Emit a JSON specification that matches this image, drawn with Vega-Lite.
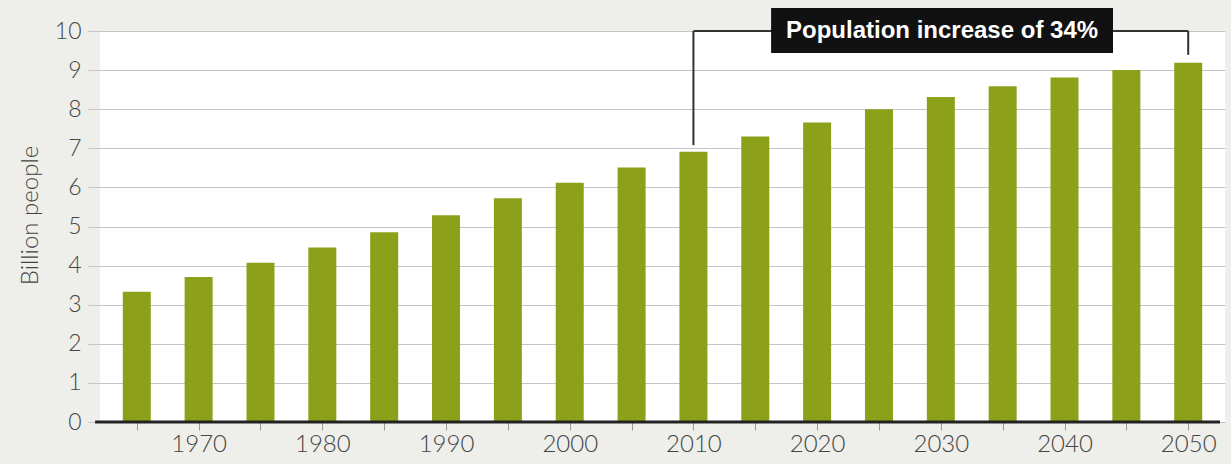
{
  "$schema": "https://vega.github.io/schema/vega-lite/v6.json",
  "width": 1125,
  "height": 391,
  "autosize": {"type": "none"},
  "padding": {"left": 100, "top": 31, "right": 6, "bottom": 42},
  "background": "#eeeeea",
  "config": {
    "view": {"fill": "#ffffff", "stroke": null},
    "font": "Liberation Sans"
  },
  "datasets": {
    "pop": [
      {"year": 1965, "billion": 3.33},
      {"year": 1970, "billion": 3.71},
      {"year": 1975, "billion": 4.07},
      {"year": 1980, "billion": 4.46},
      {"year": 1985, "billion": 4.85},
      {"year": 1990, "billion": 5.29},
      {"year": 1995, "billion": 5.72},
      {"year": 2000, "billion": 6.12},
      {"year": 2005, "billion": 6.51},
      {"year": 2010, "billion": 6.91},
      {"year": 2015, "billion": 7.3},
      {"year": 2020, "billion": 7.66},
      {"year": 2025, "billion": 8.0},
      {"year": 2030, "billion": 8.31},
      {"year": 2035, "billion": 8.59},
      {"year": 2040, "billion": 8.81},
      {"year": 2045, "billion": 9.0},
      {"year": 2050, "billion": 9.19}
    ],
    "bracket": [
      {"year": 2010, "year2": 2050, "billion": 10.0, "billion2": 10.0},
      {"year": 2010, "year2": 2010, "billion": 10.0, "billion2": 7.08},
      {"year": 2050, "year2": 2050, "billion": 10.0, "billion2": 9.39}
    ],
    "box": [
      {"year": 2016.28, "year2": 2043.92, "billion": 10.59, "billion2": 9.44}
    ],
    "label": [
      {"year": 2030.1, "billion": 10.0, "text": "Population increase of 34%"}
    ],
    "baseline": [
      {"year": 1961.63, "year2": 2052.57, "billion": 0}
    ]
  },
  "encoding": {
    "x": {
      "field": "year",
      "type": "quantitative",
      "scale": {"domain": [1962.43, 2052.57], "nice": false, "zero": false},
      "axis": {
        "title": null,
        "values": [1965, 1970, 1975, 1980, 1985, 1990, 1995, 2000, 2005, 2010, 2015, 2020, 2025, 2030, 2035, 2040, 2045, 2050],
        "labelExpr": "datum.value % 10 === 0 ? datum.value : ''",
        "format": "d",
        "grid": false,
        "domain": false,
        "ticks": true,
        "tickColor": "#999999",
        "tickSize": 8,
        "tickWidth": 1,
        "labelFont": "Lato",
        "labelFontWeight": 300,
        "labelFontSize": 24,
        "labelColor": "#444444",
        "labelPadding": 2,
        "labelFlush": false,
        "labelOverlap": false
      }
    },
    "y": {
      "field": "billion",
      "type": "quantitative",
      "scale": {"domain": [0, 10], "nice": false},
      "axis": {
        "title": "Billion people",
        "titleFont": "Lato",
        "titleFontWeight": 300,
        "titleFontSize": 24,
        "titleColor": "#444444",
        "titleAngle": 270,
        "titleX": -70,
        "titleY": 184,
        "titleAlign": "center",
        "titleBaseline": "middle",
        "values": [0, 1, 2, 3, 4, 5, 6, 7, 8, 9, 10],
        "labelOverlap": false,
        "grid": true,
        "gridColor": "#c4c4c8",
        "gridWidth": 1.2,
        "domain": false,
        "ticks": true,
        "tickColor": "#c4c4c8",
        "tickSize": 12,
        "labelFont": "Lato",
        "labelFontWeight": 300,
        "labelFontSize": 23,
        "labelColor": "#444444",
        "labelPadding": 7
      }
    }
  },
  "layer": [
    {
      "data": {"name": "pop"},
      "mark": {"type": "bar", "width": 28, "color": "#8ca01a"}
    },
    {
      "data": {"name": "baseline"},
      "mark": {"type": "rule", "color": "#222222", "strokeWidth": 3, "clip": false},
      "encoding": {
        "x2": {"field": "year2"}
      }
    },
    {
      "data": {"name": "bracket"},
      "mark": {"type": "rule", "color": "#333333", "strokeWidth": 2},
      "encoding": {
        "x2": {"field": "year2"},
        "y2": {"field": "billion2"}
      }
    },
    {
      "data": {"name": "box"},
      "mark": {"type": "rect", "color": "#111111"},
      "encoding": {
        "x2": {"field": "year2"},
        "y2": {"field": "billion2"}
      }
    },
    {
      "data": {"name": "label"},
      "mark": {"type": "text", "color": "#ffffff", "font": "Liberation Sans", "fontWeight": "bold", "fontSize": 24, "align": "center", "baseline": "middle"},
      "encoding": {
        "text": {"field": "text"}
      }
    }
  ]
}
